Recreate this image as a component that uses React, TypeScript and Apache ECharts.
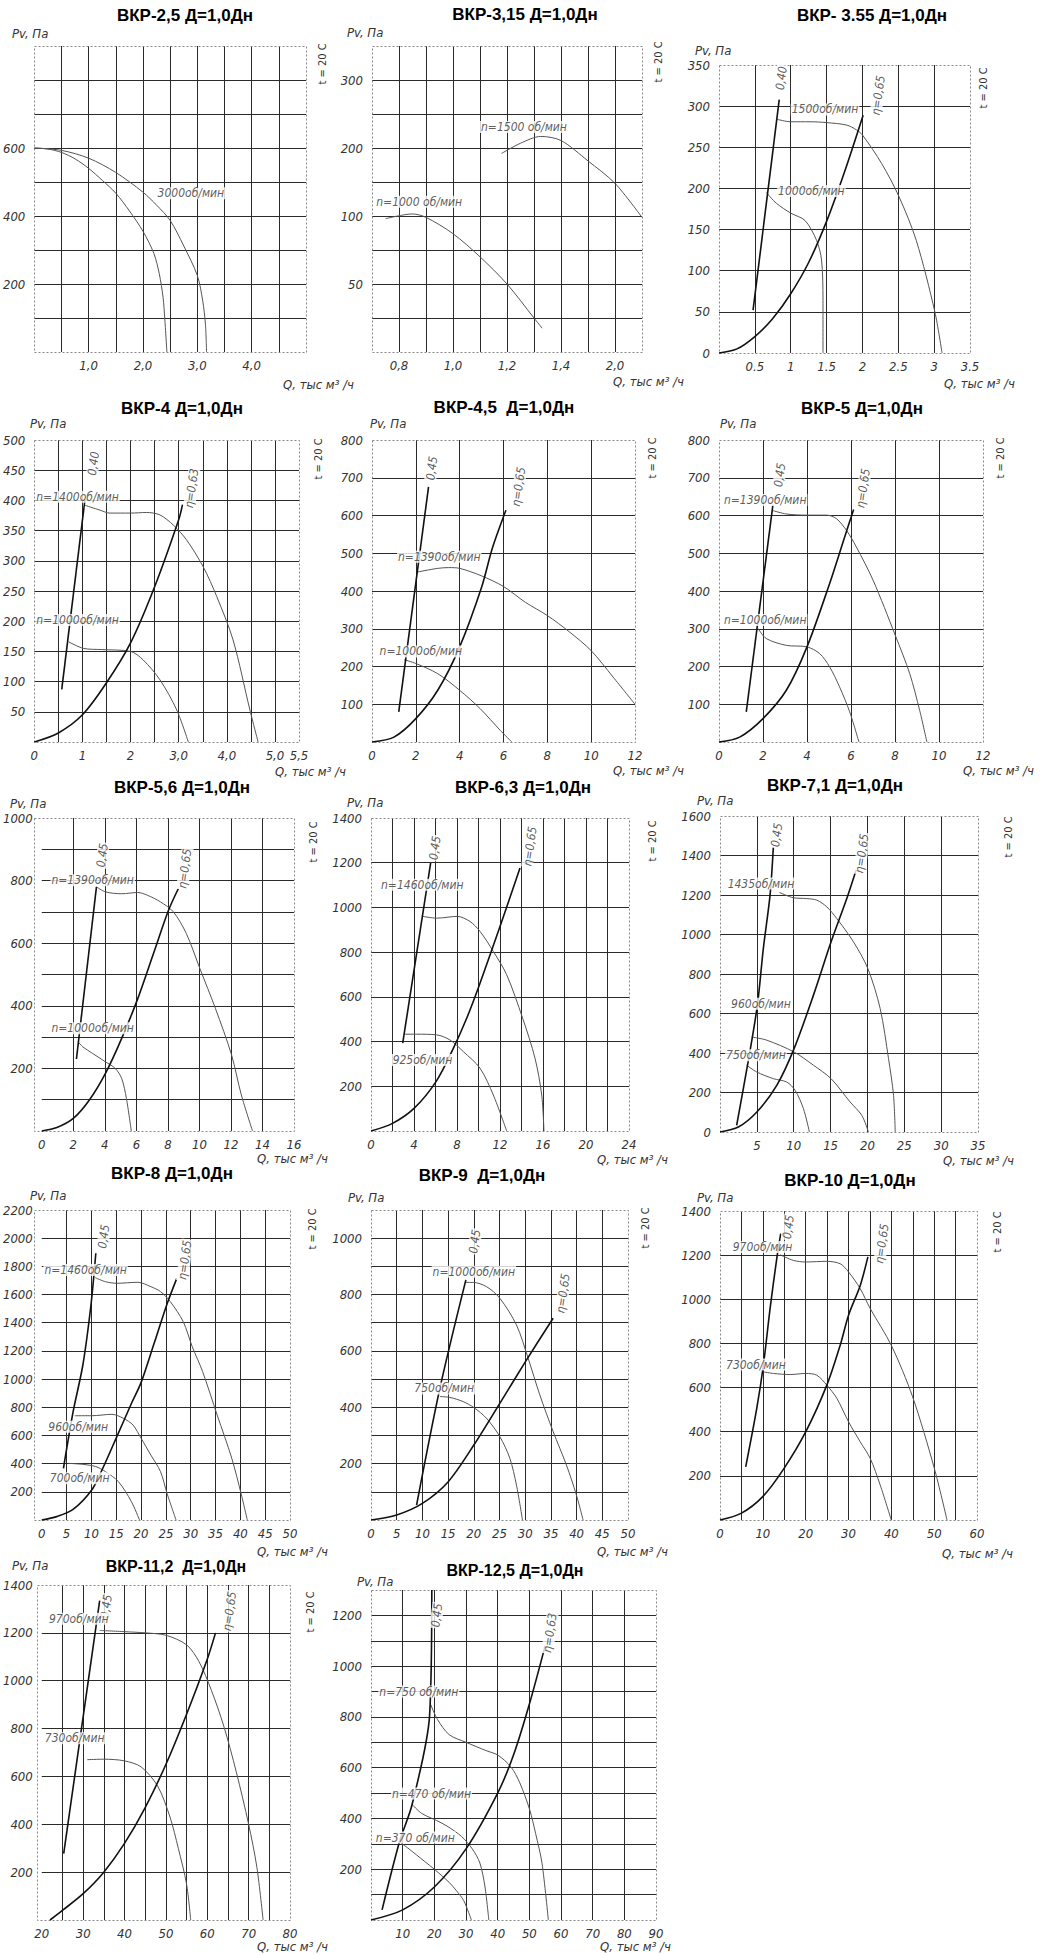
import React, { useEffect, useRef } from "react";
import * as echarts from "echarts";

type Pt = [number, number];

// ---------- titles ----------
const TITLES = [
  "ВКР-2,5 Д=1,0Дн", "ВКР-3,15 Д=1,0Дн", "ВКР- 3.55 Д=1,0Дн",
  "ВКР-4 Д=1,0Дн", "ВКР-4,5  Д=1,0Дн", "ВКР-5 Д=1,0Дн",
  "ВКР-5,6 Д=1,0Дн", "ВКР-6,3 Д=1,0Дн", "ВКР-7,1 Д=1,0Дн",
  "ВКР-8 Д=1,0Дн", "ВКР-9  Д=1,0Дн", "ВКР-10 Д=1,0Дн",
  "ВКР-11,2  Д=1,0Дн", "ВКР-12,5 Д=1,0Дн",
];

// ---------- axis ranges [min, max, step] ----------
const X_RANGE: [number, number, number][] = [
  [0, 5, 0.5], [0.7, 1.7, 0.1], [0, 3.5, 0.5],
  [0, 5.5, 0.5], [0, 12, 2], [0, 12, 2],
  [0, 16, 2], [0, 24, 2], [0, 35, 5],
  [0, 50, 5], [0, 50, 5], [0, 60, 5],
  [20, 80, 5], [0, 90, 10],
];
const Y_RANGE: [number, number, number][] = [
  [0, 900, 100], [-100, 350, 50], [0, 350, 50],
  [0, 500, 50], [0, 800, 100], [0, 800, 100],
  [0, 1000, 100], [0, 1400, 200], [0, 1600, 200],
  [0, 2200, 200], [0, 1100, 100], [0, 1400, 200],
  [0, 1400, 200], [0, 1300, 100],
];

// ---------- tick labels ----------
const X_TICKS: [number, string][][] = [
  [[1, "1,0"], [2, "2,0"], [3, "3,0"], [4, "4,0"]],
  [[0.8, "0,8"], [1.0, "1,0"], [1.2, "1,2"], [1.4, "1,4"], [1.6, "2,0"]],
  [[0.5, "0.5"], [1, "1"], [1.5, "1.5"], [2, "2"], [2.5, "2.5"], [3, "3"], [3.5, "3.5"]],
  [[0, "0"], [1, "1"], [2, "2"], [3, "3,0"], [4, "4,0"], [5, "5,0"], [5.5, "5,5"]],
  [[0, "0"], [2, "2"], [4, "4"], [6, "6"], [8, "8"], [10, "10"], [12, "12"]],
  [[0, "0"], [2, "2"], [4, "4"], [6, "6"], [8, "8"], [10, "10"], [12, "12"]],
  [[0, "0"], [2, "2"], [4, "4"], [6, "6"], [8, "8"], [10, "10"], [12, "12"], [14, "14"], [16, "16"]],
  [[0, "0"], [4, "4"], [8, "8"], [12, "12"], [16, "16"], [20, "20"], [24, "24"]],
  [[5, "5"], [10, "10"], [15, "15"], [20, "20"], [25, "25"], [30, "30"], [35, "35"]],
  [[0, "0"], [5, "5"], [10, "10"], [15, "15"], [20, "20"], [25, "25"], [30, "30"], [35, "35"], [40, "40"], [45, "45"], [50, "50"]],
  [[0, "0"], [5, "5"], [10, "10"], [15, "15"], [20, "20"], [25, "25"], [30, "30"], [35, "35"], [40, "40"], [45, "45"], [50, "50"]],
  [[0, "0"], [10, "10"], [20, "20"], [30, "30"], [40, "40"], [50, "50"], [60, "60"]],
  [[20, "20"], [30, "30"], [40, "40"], [50, "50"], [60, "60"], [70, "70"], [80, "80"]],
  [[10, "10"], [20, "20"], [30, "30"], [40, "40"], [50, "50"], [60, "60"], [70, "70"], [80, "80"], [90, "90"]],
];
const Y_TICKS: [number, string][][] = [
  [[200, "200"], [400, "400"], [600, "600"]],
  [[0, "50"], [100, "100"], [200, "200"], [300, "300"]],
  [[0, "0"], [50, "50"], [100, "100"], [150, "150"], [200, "200"], [250, "250"], [300, "300"], [350, "350"]],
  [[50, "50"], [100, "100"], [150, "150"], [200, "200"], [250, "250"], [300, "300"], [350, "350"], [400, "400"], [450, "450"], [500, "500"]],
  [[100, "100"], [200, "200"], [300, "300"], [400, "400"], [500, "500"], [600, "600"], [700, "700"], [800, "800"]],
  [[100, "100"], [200, "200"], [300, "300"], [400, "400"], [500, "500"], [600, "600"], [700, "700"], [800, "800"]],
  [[200, "200"], [400, "400"], [600, "600"], [800, "800"], [1000, "1000"]],
  [[200, "200"], [400, "400"], [600, "600"], [800, "800"], [1000, "1000"], [1200, "1200"], [1400, "1400"]],
  [[0, "0"], [200, "200"], [400, "400"], [600, "600"], [800, "800"], [1000, "1000"], [1200, "1200"], [1400, "1400"], [1600, "1600"]],
  [[200, "200"], [400, "400"], [600, "600"], [800, "800"], [1000, "1000"], [1200, "1200"], [1400, "1400"], [1600, "1600"], [1800, "1800"], [2000, "2000"], [2200, "2200"]],
  [[200, "200"], [400, "400"], [600, "600"], [800, "800"], [1000, "1000"]],
  [[200, "200"], [400, "400"], [600, "600"], [800, "800"], [1000, "1000"], [1200, "1200"], [1400, "1400"]],
  [[200, "200"], [400, "400"], [600, "600"], [800, "800"], [1000, "1000"], [1200, "1200"], [1400, "1400"]],
  [[200, "200"], [400, "400"], [600, "600"], [800, "800"], [1000, "1000"], [1200, "1200"]],
];

// ---------- curves (Q, тыс м3/ч ; Pv, Па) ----------
// ВКР-2,5
const p1Outer: Pt[] = [[0, 600], [0.5, 593], [1.0, 570], [1.5, 528], [2.0, 470], [2.25, 432], [2.5, 387], [2.75, 312], [3.0, 225], [3.1, 150], [3.15, 80], [3.17, 0]];
const p1Inner: Pt[] = [[0, 600], [0.25, 597], [0.5, 587], [0.75, 568], [1.0, 540], [1.25, 505], [1.5, 467], [1.75, 415], [2.0, 355], [2.2, 290], [2.3, 230], [2.37, 160], [2.4, 100], [2.44, 0]];
// ВКР-3,15
const p2N1500: Pt[] = [[1.18, 192], [1.25, 207], [1.325, 217], [1.4, 211], [1.5, 181], [1.6, 148], [1.7, 98]];
const p2N1000: Pt[] = [[0.75, 96], [0.85, 103], [0.9, 98], [1.0, 74], [1.1, 40], [1.2, 0], [1.3, -50], [1.33, -65]];
// ВКР-3.55
const p3Eff40: Pt[] = [[0.475, 52], [0.84, 308]];
const p3Eff65: Pt[] = [[0, 0], [0.25, 5], [0.5, 20], [0.75, 42], [1, 72], [1.25, 110], [1.5, 160], [1.75, 220], [2.01, 289]];
const p3N1500: Pt[] = [[0.81, 284], [1.0, 281], [1.27, 281], [1.5, 280], [1.78, 277], [1.92, 271], [2.0, 265], [2.27, 230], [2.51, 190], [2.75, 137], [3.01, 50], [3.11, 0]];
const p3N1000: Pt[] = [[0.66, 195], [0.8, 182], [1.0, 170], [1.2, 161], [1.36, 137], [1.43, 113], [1.45, 64], [1.45, 0]];
// ВКР-4
const p4Eff40: Pt[] = [[0.57, 87], [1.05, 400]];
const p4Eff63: Pt[] = [[0, 0], [0.5, 15], [1, 45], [1.5, 98], [2, 164], [2.5, 257], [3, 368], [3.08, 393]];
const p4N1400: Pt[] = [[1.05, 392], [1.36, 384], [1.57, 379], [2.0, 379], [2.33, 380], [2.61, 376], [2.89, 359], [3.16, 335], [3.51, 290], [3.79, 241], [4.13, 169], [4.48, 53], [4.65, 0]];
const p4N1000: Pt[] = [[0.71, 166], [1.02, 155], [1.4, 153], [2.0, 150], [2.26, 136], [2.61, 103], [2.96, 53], [3.2, 0]];
// ВКР-4,5
const p5Eff45: Pt[] = [[1.22, 80], [2.58, 676]];
const p5Eff65: Pt[] = [[0, 0], [1, 13], [2, 62], [3, 137], [4, 252], [5, 410], [5.5, 515], [6.11, 614]];
const p5N1390: Pt[] = [[2.05, 450], [3, 460], [3.5, 462], [4, 460], [5, 440], [6, 412], [7, 370], [8, 335], [9, 292], [10, 242], [11, 172], [12, 100]];
const p5N1000: Pt[] = [[1.47, 218], [2, 208], [3, 181], [4, 137], [4.94, 88], [5.85, 31], [6.38, 0]];
// ВКР-5
const p6Eff45: Pt[] = [[1.24, 80], [2.45, 628]];
const p6Eff65: Pt[] = [[0, 0], [0.94, 13], [2, 62], [3.06, 137], [4, 252], [5.03, 420], [5.64, 530], [6.12, 616]];
const p6N1390: Pt[] = [[2.45, 613], [3.06, 604], [3.97, 601], [4.88, 601], [5.33, 592], [5.79, 561], [6.24, 517], [7.0, 429], [8.01, 283], [8.67, 181], [9.12, 84], [9.45, 0]];
const p6N1000: Pt[] = [[1.77, 301], [2.15, 274], [3.06, 256], [4.0, 252], [4.58, 234], [5.03, 199], [5.48, 146], [5.94, 80], [6.36, 0]];
// ВКР-5,6
const p7Eff45: Pt[] = [[2.2, 230], [3.47, 780]];
const p7Eff65: Pt[] = [[0, 0], [0.96, 11], [2, 40], [3.02, 99], [4.04, 184], [5.07, 296], [6.09, 423], [7.12, 572], [8.04, 705], [8.66, 774]];
const p7N1390: Pt[] = [[3.47, 780], [4.04, 764], [5.07, 758], [6.09, 762], [6.71, 753], [7.53, 732], [8.35, 700], [9.17, 631], [10.03, 519], [11.02, 391], [12.04, 243], [12.66, 115], [13.37, 0]];
const p7N1000: Pt[] = [[2.3, 285], [2.6, 269], [3.22, 248], [4.04, 221], [4.66, 200], [5.07, 168], [5.37, 104], [5.68, 0]];
// ВКР-6,3
const p8Eff45: Pt[] = [[2.95, 393], [5.55, 1199]];
const p8Eff65: Pt[] = [[0, 0], [2, 34], [4, 101], [6.05, 221], [7.66, 370], [8.9, 504], [10.14, 661], [12, 915], [13.86, 1176]];
const p8N1460: Pt[] = [[4.81, 960], [6.11, 952], [8.03, 960], [9.21, 937], [10.14, 893], [11.38, 803], [12.62, 699], [14.11, 504], [15.26, 325], [15.88, 161], [16.09, 0]];
const p8N925: Pt[] = [[3.07, 433], [4.25, 433], [6.11, 430], [7.35, 407], [8.59, 355], [10.14, 281], [11.38, 161], [12.62, 0]];
// ВКР-7,1
const p9Eff45: Pt[] = [[2.26, 34], [3.85, 363], [5.07, 642], [5.88, 929], [6.79, 1199], [7.24, 1444]];
const p9Eff65: Pt[] = [[0, 0], [2.49, 25], [5, 101], [7.7, 236], [10.05, 422], [12.68, 693], [15.07, 963], [17.2, 1182], [18.47, 1326]];
const p9N1435: Pt[] = [[8.06, 1213], [9.96, 1186], [11.77, 1182], [13.13, 1174], [14.49, 1140], [15.84, 1081], [18.1, 963], [20.05, 828], [21.73, 625], [22.86, 372], [23.54, 186], [23.77, 0]];
const p9N960: Pt[] = [[4.3, 481], [6.34, 465], [10.05, 405], [12.68, 338], [15.07, 270], [17.65, 152], [19.24, 84], [20.14, 0]];
const p9N750: Pt[] = [[3.62, 338], [4.98, 304], [7.24, 270], [9.05, 253], [10.19, 211], [11.32, 118], [12.13, 0]];
// ВКР-8
const p10Eff45: Pt[] = [[4.37, 367], [6.32, 769], [8.28, 1100], [9.91, 1526], [10.89, 1893]];
const p10Eff65: Pt[] = [[0, 0], [3, 24], [6.3, 75], [10.1, 215], [12.2, 360], [15.1, 590], [18.1, 830], [20, 975], [22.6, 1250], [25.2, 1530], [27.2, 1715]];
const p10N1460: Pt[] = [[10.76, 1720], [12.84, 1691], [15.12, 1680], [19.36, 1687], [21.97, 1656], [23.92, 1621], [25.88, 1550], [28.49, 1408], [30.31, 1230], [32.4, 1053], [35.33, 745], [38.27, 438], [40.22, 177], [41.4, 0]];
const p10N960: Pt[] = [[6.65, 740], [10.1, 740], [14.15, 750], [16.43, 722], [18.38, 674], [20.01, 580], [21.97, 461], [23.92, 343], [25.23, 189], [27.05, 0]];
const p10N700: Pt[] = [[5.35, 402], [8.28, 395], [10.89, 379], [12.84, 343], [15.45, 272], [18.06, 130], [19.69, 0]];
// ВКР-9
const p11Eff45: Pt[] = [[8.87, 53], [13.4, 467], [18.46, 852]];
const p11Eff65: Pt[] = [[0, 0], [5, 18], [10, 59], [15.03, 136], [20.01, 266], [25.06, 414], [30.05, 562], [35.43, 716]];
const p11N1000: Pt[] = [[18.26, 843], [19.88, 843], [22.47, 828], [25.06, 787], [28.3, 692], [30.57, 574], [32.84, 444], [35.43, 314], [38.02, 195], [39.96, 89], [41.26, 0]];
const p11N750: Pt[] = [[13.4, 438], [15.35, 435], [17.94, 420], [20.01, 399], [22.47, 361], [25.06, 296], [27.01, 219], [28.3, 124], [29.47, 0]];
// ВКР-10
const p12Eff45: Pt[] = [[6, 241], [8.57, 505], [10.13, 701], [11.69, 958], [13.25, 1184], [14.18, 1297]];
const p12Eff65: Pt[] = [[0, 0], [4.91, 30], [9.98, 106], [14.96, 234], [20.03, 400], [24.94, 611], [28.06, 792], [30.01, 928], [32.74, 1063], [34.53, 1192]];
const p12N970: Pt[] = [[14.03, 1202], [17.15, 1176], [20.03, 1169], [24.94, 1172], [28.06, 1161], [30.01, 1124], [32.74, 1048], [35.07, 958], [39.98, 792], [44.97, 558], [50.04, 234], [53, 0]];
const p12N730: Pt[] = [[10.13, 671], [12.47, 664], [16.37, 659], [20.03, 664], [22.6, 656], [24.94, 611], [27.28, 551], [30.01, 445], [32.74, 354], [35.07, 279], [37.41, 158], [39.98, 0]];
// ВКР-11,2
const p13Eff45: Pt[] = [[25.3, 277], [34, 1335]];
const p13Eff65: Pt[] = [[22, 0], [25, 40], [30, 110], [35, 200], [40, 320], [45, 470], [50, 650], [55, 860], [60, 1090], [62, 1200]];
const p13N970: Pt[] = [[34, 1210], [40, 1205], [45, 1200], [50, 1190], [55, 1150], [58, 1080], [61, 960], [64, 810], [67, 620], [70, 400], [72, 220], [73.5, 0]];
const p13N730: Pt[] = [[31, 670], [35, 672], [40, 665], [44, 640], [48, 560], [51, 430], [53, 300], [55, 150], [56, 0]];
// ВКР-12,5
const p14Eff45: Pt[] = [[3.5, 40], [9, 308], [13, 456], [18.5, 805], [19.2, 1300]];
const p14Eff63: Pt[] = [[0, 0], [10, 40], [20, 130], [30, 280], [40, 500], [45, 650], [50, 850], [55, 1080]];
const p14N750: Pt[] = [[18.8, 850], [21, 790], [24.7, 730], [30, 700], [36.4, 667], [40, 650], [44.2, 603], [47, 540], [50.1, 435], [52, 340], [54, 224], [56, 0]];
const p14N470: Pt[] = [[12.9, 456], [16, 420], [20.7, 392], [24, 370], [28.6, 329], [32, 280], [34.4, 224], [36, 130], [37.2, 0]];
const p14N370: Pt[] = [[9, 308], [12, 280], [16.8, 232], [20, 200], [24.7, 148], [27, 115], [29.3, 76], [31.7, 0]];

const FAN_CURVES: Pt[][][] = [
  [p1Outer, p1Inner], [p2N1500, p2N1000], [p3N1500, p3N1000],
  [p4N1400, p4N1000], [p5N1390, p5N1000], [p6N1390, p6N1000],
  [p7N1390, p7N1000], [p8N1460, p8N925], [p9N1435, p9N960, p9N750],
  [p10N1460, p10N960, p10N700], [p11N1000, p11N750], [p12N970, p12N730],
  [p13N970, p13N730], [p14N750, p14N470, p14N370],
];
const EFF_CURVES: Pt[][][] = [
  [], [], [p3Eff40, p3Eff65],
  [p4Eff40, p4Eff63], [p5Eff45, p5Eff65], [p6Eff45, p6Eff65],
  [p7Eff45, p7Eff65], [p8Eff45, p8Eff65], [p9Eff45, p9Eff65],
  [p10Eff45, p10Eff65], [p11Eff45, p11Eff65], [p12Eff45, p12Eff65],
  [p13Eff45, p13Eff65], [p14Eff45, p14Eff63],
];

// ---------- curve notes: [Q, Pv, text, vertical] ----------
const NOTES: [number, number, string, number][][] = [
  [[2.25, 467, "3000об/мин", 0]],
  [[1.1, 231, "n=1500 об/мин", 0], [0.712, 121, "n=1000 об/мин", 0]],
  [[0.87, 334, "0,40", 1], [2.22, 313, "η=0,65", 1], [1.0, 296, "1500об/мин", 0], [0.81, 197, "1000об/мин", 0]],
  [[1.23, 461, "0,40", 1], [3.27, 420, "η=0,63", 1], [0.02, 406, "n=1400об/мин", 0], [0.02, 202, "n=1000об/мин", 0]],
  [[2.73, 725, "0,45", 1], [6.69, 676, "η=0,65", 1], [1.14, 491, "n=1390об/мин", 0], [0.3, 240, "n=1000об/мин", 0]],
  [[2.76, 707, "0,45", 1], [6.55, 672, "η=0,65", 1], [0.18, 641, "n=1390об/мин", 0], [0.18, 323, "n=1000об/мин", 0]],
  [[3.84, 881, "0,45", 1], [9.07, 838, "η=0,65", 1], [0.55, 801, "n=1390об/мин", 0], [0.55, 328, "n=1000об/мин", 0]],
  [[5.95, 1266, "0,45", 1], [14.79, 1273, "η=0,65", 1], [0.84, 1101, "n=1460об/мин", 0], [1.92, 318, "925об/мин", 0]],
  [[7.7, 1503, "0,45", 1], [19.24, 1410, "η=0,65", 1], [0.9, 1258, "1435об/мин", 0], [1.36, 650, "960об/мин", 0], [0.68, 389, "750об/мин", 0]],
  [[12.5, 2011, "0,45", 1], [28.8, 1845, "η=0,65", 1], [0.33, 1774, "n=1460об/мин", 0], [1.11, 662, "960об/мин", 0], [1.43, 296, "700об/мин", 0]],
  [[20.2, 988, "0,45", 1], [37.37, 804, "η=0,65", 1], [11.79, 881, "n=1000об/мин", 0], [8.23, 467, "750об/мин", 0]],
  [[15.98, 1327, "0,45", 1], [37.8, 1252, "η=0,65", 1], [2.73, 1237, "970об/мин", 0], [1.17, 704, "730об/мин", 0]],
  [[35.6, 1310, "0,45", 1], [65.4, 1290, "η=0,65", 1], [21.5, 1259, "970об/мин", 0], [20.5, 760, "730об/мин", 0]],
  [[20.8, 1200, "0,45", 1], [56.5, 1131, "η=0,63", 1], [2.3, 900, "n=750 об/мин", 0], [6.3, 498, "n=470 об/мин", 0], [1.2, 325, "n=370 об/мин", 0]],
];

// ---------- layout (pixels) ----------
type Lay = { plot: [number, number, number, number]; title: [number, number]; pv: [number, number]; t: [number, number] | null; q: [number, number] };
const LAYOUT: Lay[] = [
  { plot: [34, 46, 306, 352], title: [185, 15], pv: [12, 33], t: [322, 64], q: [283, 384] },
  { plot: [372, 46, 642, 352], title: [525, 14], pv: [347, 32], t: [658, 62], q: [613, 381] },
  { plot: [719, 65, 970, 353], title: [872, 15], pv: [695, 50], t: [983, 88], q: [944, 383] },
  { plot: [34, 440, 299, 742], title: [182, 408], pv: [30, 423], t: [318, 459], q: [275, 771] },
  { plot: [372, 440, 635, 742], title: [504, 407], pv: [370, 423], t: [652, 458], q: [613, 770] },
  { plot: [719, 440, 983, 742], title: [862, 408], pv: [720, 423], t: [1000, 458], q: [963, 770] },
  { plot: [34, 818, 294, 1131], title: [182, 787], pv: [10, 803], t: [313, 842], q: [257, 1158] },
  { plot: [371, 818, 629, 1131], title: [523, 787], pv: [347, 802], t: [652, 841], q: [597, 1159] },
  { plot: [720, 816, 978, 1132], title: [835, 785], pv: [697, 800], t: [1008, 837], q: [943, 1160] },
  { plot: [34, 1210, 290, 1520], title: [172, 1173], pv: [30, 1195], t: [312, 1229], q: [257, 1551] },
  { plot: [371, 1210, 628, 1520], title: [482, 1175], pv: [348, 1197], t: [645, 1228], q: [597, 1551] },
  { plot: [720, 1211, 977, 1520], title: [850, 1180], pv: [697, 1197], t: [997, 1232], q: [942, 1553] },
  { plot: [37, 1585, 290, 1920], title: [176, 1566], pv: [12, 1565], t: [310, 1612], q: [257, 1946] },
  { plot: [371, 1590, 656, 1920], title: [515, 1570], pv: [357, 1581], t: null, q: [600, 1946] },
];

const CAD = "'Liberation Sans Narrow','DejaVu Sans Condensed','Arial Narrow',sans-serif";
const INK = "#333";

function fmt(ticks: [number, string][]) {
  return (v: number) => {
    for (const [tv, tx] of ticks) if (Math.abs(tv - v) < 1e-6) return tx;
    return "";
  };
}

function buildOption() {
  const grid: any[] = [];
  const xAxis: any[] = [];
  const yAxis: any[] = [];
  const series: any[] = [];
  const graphic: any[] = [];
  const labelStyle = { fontFamily: CAD, fontStyle: "italic", fontSize: 13, color: INK };
  const split = { show: true, showMinLine: false, showMaxLine: false, lineStyle: { color: "#2a2a2a", width: 1 } };

  TITLES.forEach((title, i) => {
    const lay = LAYOUT[i];
    const [L, T, R, B] = lay.plot;
    grid.push({ left: L, top: T, width: R - L, height: B - T, containLabel: false, show: false });
    xAxis.push({
      type: "value", gridIndex: i, min: X_RANGE[i][0], max: X_RANGE[i][1], interval: X_RANGE[i][2],
      axisLine: { show: false }, axisTick: { show: false }, splitLine: split,
      axisLabel: { ...labelStyle, margin: 7, showMinLabel: true, showMaxLabel: true, hideOverlap: false, formatter: fmt(X_TICKS[i]) },
    });
    yAxis.push({
      type: "value", gridIndex: i, min: Y_RANGE[i][0], max: Y_RANGE[i][1], interval: Y_RANGE[i][2],
      axisLine: { show: false }, axisTick: { show: false }, splitLine: split,
      axisLabel: { ...labelStyle, margin: 9, showMinLabel: true, showMaxLabel: true, hideOverlap: false, formatter: fmt(Y_TICKS[i]) },
    });
    FAN_CURVES[i].forEach((pts) => {
      series.push({
        type: "line", xAxisIndex: i, yAxisIndex: i, data: pts, smooth: 0.3, symbol: "none",
        clip: false, silent: true, lineStyle: { color: "#555", width: 1 }, z: 3,
      });
    });
    EFF_CURVES[i].forEach((pts) => {
      series.push({
        type: "line", xAxisIndex: i, yAxisIndex: i, data: pts, smooth: pts.length > 2 ? 0.3 : false, symbol: "none",
        clip: false, silent: true, lineStyle: { color: "#111", width: 1.6 }, z: 4,
      });
    });
    series.push({
      type: "scatter", xAxisIndex: i, yAxisIndex: i, symbolSize: 0, clip: false, silent: true, z: 6,
      data: NOTES[i].map(([x, y, text, vert]) => ({
        value: [x, y],
        label: {
          show: true, position: [0, 0], formatter: text,
          align: vert ? "center" : "left", verticalAlign: "middle", rotate: vert ? 82 : 0,
          fontFamily: CAD, fontStyle: "italic", fontSize: 12, color: "#333",
          backgroundColor: "#fff", padding: [0, 1],
        },
      })),
    });
    graphic.push({
      type: "rect", silent: true, z: 1,
      shape: { x: L + 0.5, y: T + 0.5, width: R - L, height: B - T },
      style: { fill: "none", stroke: "#888", lineWidth: 1, lineDash: [2, 2] },
    });
    graphic.push({
      type: "text", silent: true,
      style: { text: title, x: lay.title[0], y: lay.title[1], align: "center", verticalAlign: "middle", textAlign: "center", textVerticalAlign: "middle",
        fontFamily: "'Liberation Sans',Arial,sans-serif", fontWeight: "bold", fontSize: i >= 12 ? 16 : 17, fill: "#000" },
    });
    graphic.push({
      type: "text", silent: true,
      style: { text: "Pv, Па", x: lay.pv[0], y: lay.pv[1], align: "left", verticalAlign: "middle", textAlign: "left", textVerticalAlign: "middle",
        fontFamily: CAD, fontStyle: "italic", fontSize: 13, fill: INK },
    });
    graphic.push({
      type: "text", silent: true,
      style: { text: "Q, тыс м³ /ч", x: lay.q[0], y: lay.q[1], align: "left", verticalAlign: "middle", textAlign: "left", textVerticalAlign: "middle",
        fontFamily: CAD, fontStyle: "italic", fontSize: 13, fill: INK },
    });
    if (lay.t) {
      graphic.push({
        type: "text", silent: true, x: lay.t[0], y: lay.t[1], rotation: Math.PI / 2,
        style: { text: "t = 20 C", x: 0, y: 0, align: "center", verticalAlign: "middle", textAlign: "center", textVerticalAlign: "middle",
          fontFamily: "'DejaVu Sans Condensed','Liberation Sans Narrow',sans-serif", fontSize: 11, fill: INK },
      });
    }
  });

  return {
    animation: false,
    backgroundColor: "#fff",
    grid, xAxis, yAxis, series, graphic,
  };
}

export default function App() {
  const ref = useRef<HTMLDivElement>(null);
  useEffect(() => {
    if (!ref.current) return;
    const chart = echarts.init(ref.current, undefined, { renderer: "svg" });
    chart.setOption(buildOption() as any);
    return () => chart.dispose();
  }, []);
  return (
    <div
      ref={ref}
      style={{ position: "absolute", left: 0, top: 0, width: 1041, height: 1955, background: "#fff" }}
    />
  );
}
